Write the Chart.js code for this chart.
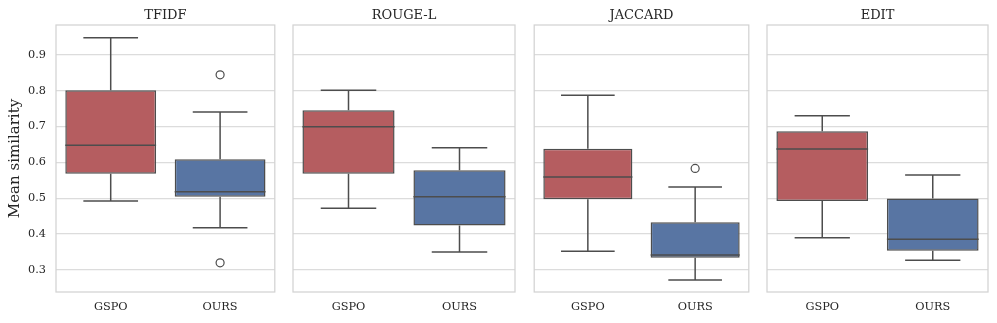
<!DOCTYPE html>
<html>
<head>
<meta charset="utf-8">
<script src="https://cdn.jsdelivr.net/npm/chart.js@4.4.1/dist/chart.umd.min.js"></script>
<style>
  html, body { margin: 0; padding: 0; background: #fff; }
  #wrap { position: relative; width: 997px; height: 323px; }
  #wrap div { position: absolute; top: 0; height: 323px; }
</style>
</head>
<body>
<div id="wrap">
  <div style="left:0px;width:280px"><canvas id="c0"></canvas></div>
  <div style="left:292px;width:225px"><canvas id="c1"></canvas></div>
  <div style="left:529px;width:225px"><canvas id="c2"></canvas></div>
  <div style="left:766px;width:224px"><canvas id="c3"></canvas></div>
</div>
<script>
// categorie e metriche
const categories = ["GSPO", "OURS"];
const metrics = ["TFIDF", "ROUGE-L", "JACCARD", "EDIT"];
const yTicks = [0.3, 0.4, 0.5, 0.6, 0.7, 0.8, 0.9];

// statistiche dei box: [GSPO, OURS] per ogni metrica
const whiskerLow = [[0.492, 0.418], [0.472, 0.350], [0.352, 0.272], [0.390, 0.327]];
const q1Values   = [[0.568, 0.504], [0.568, 0.424], [0.497, 0.334], [0.492, 0.354]];
const medians    = [[0.648, 0.518], [0.699, 0.504], [0.559, 0.342], [0.637, 0.386]];
const q3Values   = [[0.801, 0.609], [0.745, 0.578], [0.638, 0.433], [0.687, 0.499]];
const whiskerHigh = [[0.947, 0.740], [0.801, 0.641], [0.787, 0.531], [0.730, 0.565]];
// outlier: [metrica, categoria, valore]
const outliers = [[0, "OURS", 0.844], [0, "OURS", 0.320], [2, "OURS", 0.583]];

const boxColors = ["#b55d60", "#5875a3"];
const lineColor = "#4d4d4d";
const gridColor = "#dcdcdc";
const textColor = "#262626";
const serif = "'DejaVu Serif', serif";

// disegna baffi, mediane, cornice e titolo usando le scale del grafico
const boxPlugin = {
  id: "boxExtras",
  beforeDatasetsDraw(chart) {
    const ctx = chart.ctx;
    const m = chart.options.plugins.boxExtras.metric;
    const x = chart.scales.x, y = chart.scales.y;
    const step = x.getPixelForValue(1) - x.getPixelForValue(0);
    const capHalf = step * 0.25;
    ctx.save();
    ctx.strokeStyle = lineColor;
    ctx.lineWidth = 1.5;
    for (let i = 0; i < categories.length; i++) {
      const cx = x.getPixelForValue(i);
      const segs = [[whiskerLow[m][i], q1Values[m][i]], [q3Values[m][i], whiskerHigh[m][i]]];
      ctx.beginPath();
      for (const s of segs) {
        ctx.moveTo(cx, y.getPixelForValue(s[0]));
        ctx.lineTo(cx, y.getPixelForValue(s[1]));
      }
      for (const v of [whiskerLow[m][i], whiskerHigh[m][i]]) {
        const py = y.getPixelForValue(v);
        ctx.moveTo(cx - capHalf, py);
        ctx.lineTo(cx + capHalf, py);
      }
      ctx.stroke();
    }
    ctx.restore();
  },
  afterDatasetsDraw(chart) {
    const ctx = chart.ctx;
    const m = chart.options.plugins.boxExtras.metric;
    const y = chart.scales.y;
    const meta = chart.getDatasetMeta(0);
    ctx.save();
    ctx.strokeStyle = lineColor;
    ctx.lineWidth = 1.5;
    for (let i = 0; i < categories.length; i++) {
      const bar = meta.data[i];
      const py = y.getPixelForValue(medians[m][i]);
      ctx.beginPath();
      ctx.moveTo(bar.x - bar.width / 2, py);
      ctx.lineTo(bar.x + bar.width / 2, py);
      ctx.stroke();
    }
    // cornice dell'area del grafico
    const a = chart.chartArea;
    ctx.strokeStyle = "#d3d3d3";
    ctx.lineWidth = 1.25;
    ctx.strokeRect(a.left, a.top, a.right - a.left, a.bottom - a.top);
    // titolo centrato sull'area del grafico
    ctx.fillStyle = textColor;
    ctx.font = "13px " + serif;
    ctx.textAlign = "center";
    ctx.textBaseline = "alphabetic";
    ctx.fillText(metrics[m], (a.left + a.right) / 2, 19.3);
    ctx.restore();
  }
};

function makeChart(m) {
  const first = m === 0;
  const outPts = outliers.filter(o => o[0] === m).map(o => ({ x: o[1], y: o[2] }));
  return new Chart(document.getElementById("c" + m), {
    type: "bar",
    data: {
      labels: categories,
      datasets: [
        {
          data: categories.map((c, i) => [q1Values[m][i], q3Values[m][i]]),
          backgroundColor: boxColors,
          borderColor: lineColor,
          borderWidth: 1.5,
          borderSkipped: false,
          barPercentage: 0.83,
          categoryPercentage: 1.0
        },
        {
          type: "scatter",
          data: outPts,
          pointStyle: "circle",
          pointRadius: 4,
          pointBackgroundColor: "rgba(255,255,255,0)",
          pointBorderColor: lineColor,
          pointBorderWidth: 1.2
        }
      ]
    },
    options: {
      responsive: true,
      maintainAspectRatio: false,
      animation: false,
      layout: { padding: { left: 0, right: 2, top: 25, bottom: 0 } },
      plugins: {
        legend: { display: false },
        tooltip: { enabled: false },
        title: { display: false },
        boxExtras: { metric: m }
      },
      scales: {
        x: {
          type: "category",
          offset: true,
          grid: { display: false, drawTicks: false },
          border: { display: false },
          ticks: { color: textColor, font: { family: serif, size: 11.3 }, padding: 8 },
          afterFit: s => { s.height = 31; }
        },
        y: {
          min: 0.2387,
          max: 0.9828,
          afterBuildTicks: s => { s.ticks = yTicks.map(v => ({ value: v })); },
          grid: { color: gridColor, lineWidth: 1.25, drawTicks: false },
          border: { display: false },
          ticks: {
            display: first,
            color: textColor,
            font: { family: serif, size: 11.3 },
            padding: 10,
            callback: v => v.toFixed(1)
          },
          title: {
            display: first,
            text: "Mean similarity",
            color: textColor,
            font: { family: serif, size: 15 },
            padding: { top: 6, bottom: 0 }
          },
          afterFit: s => { s.width = first ? 56 : 1; }
        }
      }
    },
    plugins: [boxPlugin]
  });
}

for (let m = 0; m < metrics.length; m++) makeChart(m);
</script>
</body>
</html>
